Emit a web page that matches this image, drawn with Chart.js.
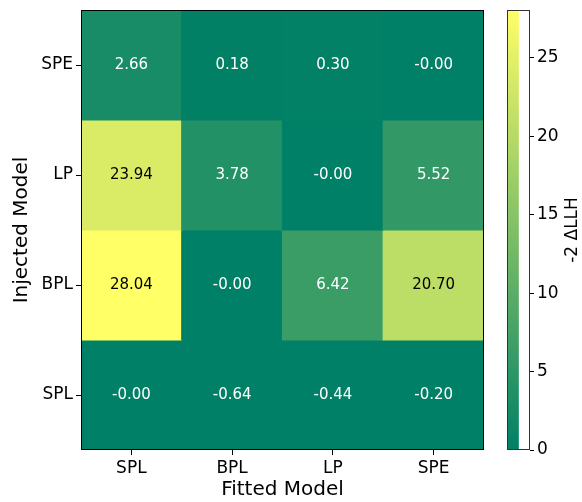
<!DOCTYPE html>
<html><head><meta charset="utf-8">
<script src="https://cdn.jsdelivr.net/npm/chart.js@4/dist/chart.umd.min.js"></script>
<style>
html,body{margin:0;padding:0;background:#fff;}
#wrap{position:relative;width:582px;height:502px;}
#main{position:absolute;left:0;top:0;}
#cbar{position:absolute;left:480px;top:0;}
</style></head>
<body><div id="wrap"><canvas id="main" width="582" height="502"></canvas><canvas id="cbar" width="102" height="502"></canvas></div>
<script>
const fittedModels = ['SPL', 'BPL', 'LP', 'SPE'];
const injectedModels = ['SPE', 'LP', 'BPL', 'SPL']; // top to bottom
const rowSPE = [2.66, 0.18, 0.30, -0.00];
const rowLP  = [23.94, 3.78, -0.00, 5.52];
const rowBPL = [28.04, -0.00, 6.42, 20.70];
const rowSPL = [-0.00, -0.64, -0.44, -0.20];
const matrix = [rowSPE, rowLP, rowBPL, rowSPL];
const colorbarTicks = [0, 5, 10, 15, 20, 25];
const colorbarLabel = '-2 ΔLLH';

const vmin = 0;
const vmax = Math.max(...matrix.flat());
function summer(v) {
  let t = (v - vmin) / (vmax - vmin);
  t = Math.max(0, Math.min(1, t));
  const r = Math.round(255 * t), g = Math.round(255 * (0.5 + 0.5 * t)), b = Math.round(255 * 0.4);
  return `rgb(${r},${g},${b})`;
}
function fmt(v) {
  const s = Math.abs(v).toFixed(2);
  return (v < 0 || Object.is(v, -0)) ? '-' + s : s;
}
const FONT = "'DejaVu Sans', sans-serif";

const datasets = matrix.map((row, i) => ({
  label: injectedModels[i],
  data: row.map(() => [i, i + 1]),
  backgroundColor: row.map(v => summer(v)),
  borderWidth: 0,
  inflateAmount: 0.6,
  grouped: false,
  barPercentage: 1,
  categoryPercentage: 1
}));

const frameAndText = {
  id: 'frameAndText',
  afterDatasetsDraw(chart) {
    const ctx = chart.ctx;
    const xs = chart.scales.x, ys = chart.scales.y;
    ctx.save();
    ctx.font = `15px ${FONT}`;
    ctx.textAlign = 'center';
    ctx.textBaseline = 'middle';
    matrix.forEach((row, i) => {
      row.forEach((v, j) => {
        const x = xs.getPixelForValue(j);
        const y = ys.getPixelForValue(i + 0.5);
        ctx.fillStyle = (v - vmin) / (vmax - vmin) > 0.5 ? '#000' : '#fff';
        ctx.fillText(fmt(v), x, y);
      });
    });
    const a = chart.chartArea;
    ctx.strokeStyle = '#000';
    ctx.lineWidth = 1;
    ctx.strokeRect(a.left + 0.5, a.top + 0.5, a.right - a.left - 1, a.bottom - a.top - 1);
    ctx.restore();
  }
};

function noPad(s) { s.paddingTop = 0; s.paddingBottom = 0; s.paddingLeft = 0; s.paddingRight = 0; }

new Chart(document.getElementById('main'), {
  type: 'bar',
  data: { labels: fittedModels, datasets },
  options: {
    responsive: false, animation: false,
    layout: { padding: { top: 10, right: 98, left: 0, bottom: 0 } },
    plugins: { legend: { display: false }, tooltip: { enabled: false } },
    scales: {
      x: {
        type: 'category', offset: true,
        grid: { offset: false, drawOnChartArea: false, drawTicks: true, tickLength: 5, color: '#000' },
        border: { display: false },
        ticks: { color: '#000', font: { family: FONT, size: 17 }, padding: 3, maxRotation: 0 },
        title: { display: true, text: 'Fitted Model', color: '#000', font: { family: FONT, size: 20 }, padding: { top: 0, bottom: 0 } },
        afterFit(s) { s.height = 52; noPad(s); }
      },
      y: {
        type: 'linear', min: 0, max: 4, reverse: true,
        afterBuildTicks(s) { s.ticks = injectedModels.map((_, i) => ({ value: i + 0.5 })); },
        grid: { drawOnChartArea: false, drawTicks: true, tickLength: 5, color: '#000' },
        border: { display: false },
        ticks: { color: '#000', font: { family: FONT, size: 17 }, padding: 3,
          callback(v) { return injectedModels[Math.floor(v)]; } },
        title: { display: true, text: 'Injected Model', color: '#000', font: { family: FONT, size: 20 }, padding: { top: 10, bottom: 10 } },
        afterFit(s) { s.width = 81; noPad(s); }
      }
    }
  },
  plugins: [frameAndText]
});

const cbarDecor = {
  id: 'cbarDecor',
  afterDraw(chart) {
    const ctx = chart.ctx, a = chart.chartArea;
    ctx.save();
    ctx.strokeStyle = '#333';
    ctx.lineWidth = 1;
    ctx.strokeRect(a.left + 0.5, a.top + 0.5, a.right - a.left - 1, a.bottom - a.top - 1);
    ctx.translate(93, (a.top + a.bottom) / 2);
    ctx.rotate(-Math.PI / 2);
    ctx.fillStyle = '#000';
    ctx.font = `17px ${FONT}`;
    ctx.textAlign = 'center';
    ctx.textBaseline = 'middle';
    ctx.fillText(colorbarLabel, 0, 0);
    ctx.restore();
  }
};

new Chart(document.getElementById('cbar'), {
  type: 'bar',
  data: {
    labels: [''],
    datasets: [{
      data: [[vmin, vmax]],
      borderWidth: 0,
      barPercentage: 1, categoryPercentage: 1,
      backgroundColor(c) {
        const ch = c.chart;
        if (!ch.chartArea) return summer(vmin);
        const ys = ch.scales.y;
        const g = ch.ctx.createLinearGradient(0, ys.getPixelForValue(vmin), 0, ys.getPixelForValue(vmax));
        for (let k = 0; k <= 10; k++) {
          g.addColorStop(k / 10, summer(vmin + (vmax - vmin) * k / 10));
        }
        return g;
      }
    }]
  },
  options: {
    responsive: false, animation: false,
    layout: { padding: { top: 10, left: 27, right: 0, bottom: 52 } },
    plugins: { legend: { display: false }, tooltip: { enabled: false } },
    scales: {
      x: { display: false, offset: false },
      y: {
        position: 'right', min: vmin, max: vmax,
        afterBuildTicks(s) { s.ticks = colorbarTicks.map(v => ({ value: v })); },
        grid: { drawOnChartArea: false, drawTicks: true, tickLength: 4, color: '#000' },
        border: { display: false },
        ticks: { color: '#000', font: { family: FONT, size: 17 }, padding: 3 },
        afterFit(s) { s.width = 52; noPad(s); }
      }
    }
  },
  plugins: [cbarDecor]
});
</script>
</body></html>
